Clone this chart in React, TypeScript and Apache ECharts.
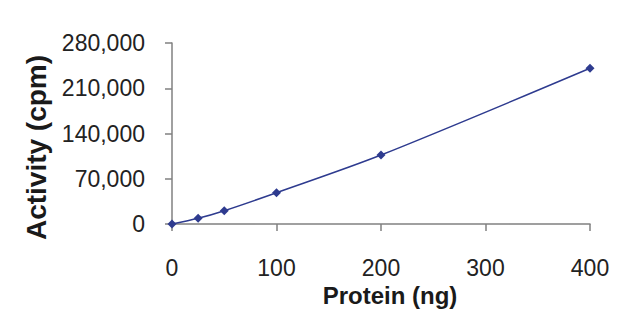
import React, { useEffect, useRef } from "react";
import * as echarts from "echarts";

const protein = [0, 25, 50, 100, 200, 400];
const activity = [0, 8800, 20600, 48400, 106700, 240900];
const yTicks = [0, 70000, 140000, 210000, 280000];
const xTicks = [0, 100, 200, 300, 400];

export default function App() {
  const ref = useRef<HTMLDivElement>(null);
  useEffect(() => {
    const chart = echarts.init(ref.current!, undefined, { renderer: "svg" });
    const font = "Liberation Sans, Arial, sans-serif";
    chart.setOption({
      animation: false,
      backgroundColor: "#ffffff",
      grid: { left: 172, right: 50, top: 43, bottom: 97 },
      xAxis: {
        type: "value",
        min: xTicks[0],
        max: xTicks[xTicks.length - 1],
        interval: 100,
        name: "Protein (ng)",
        nameLocation: "middle",
        nameGap: 59,
        nameTextStyle: {
          fontFamily: font,
          fontSize: 24,
          fontWeight: "bold",
          color: "#1a1a1a",
          padding: [0, 0, 0, 18],
        },
        axisLine: { lineStyle: { color: "#808080", width: 1.5 } },
        axisTick: { show: true, inside: false, length: 7, lineStyle: { color: "#808080", width: 1.5 } },
        axisLabel: { fontFamily: font, fontSize: 23, color: "#222", margin: 32 },
        splitLine: { show: false },
      },
      yAxis: {
        type: "value",
        min: yTicks[0],
        max: yTicks[yTicks.length - 1],
        interval: 70000,
        name: "Activity (cpm)",
        nameLocation: "middle",
        nameGap: 120,
        nameTextStyle: {
          fontFamily: font,
          fontSize: 28,
          fontWeight: "bold",
          color: "#1a1a1a",
          padding: [0, 28, 0, 0],
        },
        axisLine: { show: true, lineStyle: { color: "#808080", width: 1.5 } },
        axisTick: { show: true, inside: false, length: 7, lineStyle: { color: "#808080", width: 1.5 } },
        axisLabel: {
          fontFamily: font,
          fontSize: 23,
          color: "#222",
          margin: 27,
          formatter: (v: number) => v.toLocaleString("en-US"),
        },
        splitLine: { show: false },
      },
      series: [
        {
          type: "line",
          data: protein.map((p, i) => [p, activity[i]]),
          smooth: 0.3,
          symbol: "diamond",
          symbolSize: 9,
          lineStyle: { color: "#2e3b8f", width: 1.5 },
          itemStyle: { color: "#2e3b8f" },
        },
      ],
    });
    return () => chart.dispose();
  }, []);
  return <div ref={ref} style={{ width: 640, height: 321, position: "absolute", left: 0, top: 0 }} />;
}
